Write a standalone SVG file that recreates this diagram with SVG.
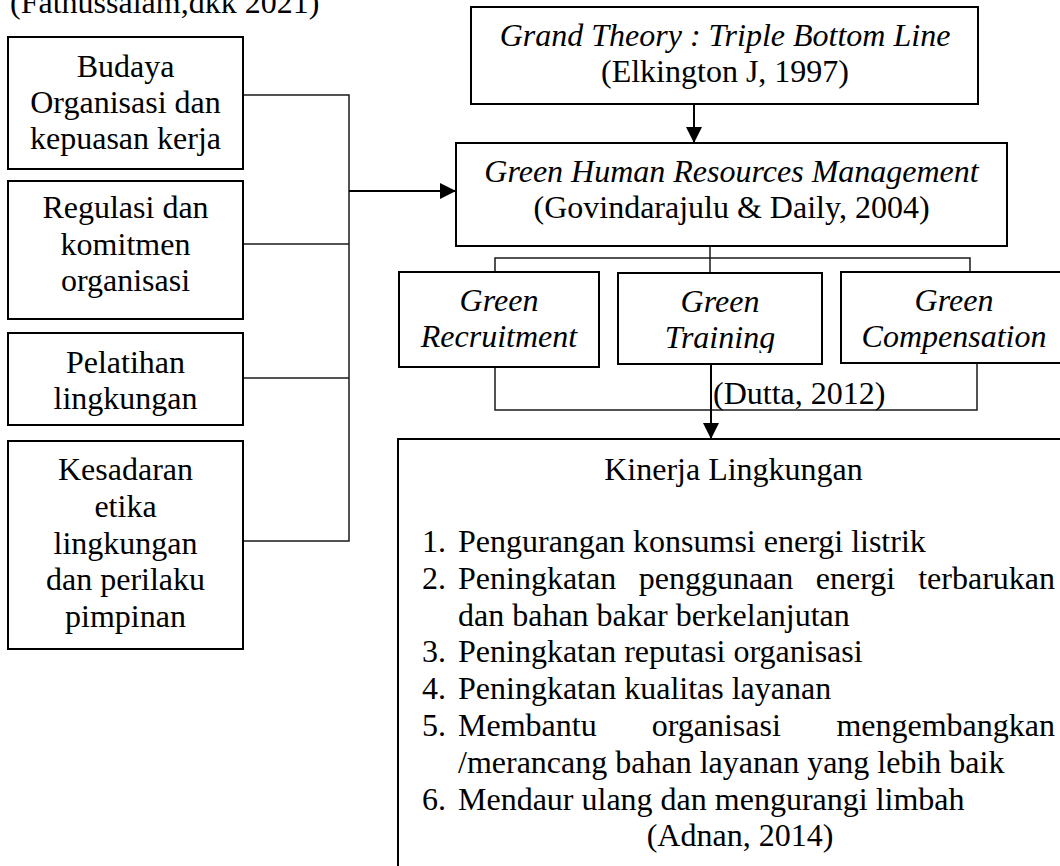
<svg xmlns="http://www.w3.org/2000/svg" width="1060" height="866" viewBox="0 0 1060 866">
<style>
  .box { fill: #ffffff; stroke: #000000; stroke-width: 2; }
  .t { font-family: "Liberation Serif", "Times New Roman", serif; font-size: 32px; fill: #000000; }
  .c { text-anchor: middle; }
  .i { font-style: italic; }
  .e { text-anchor: end; }
  .conn { fill: none; stroke: #1a1a1a; stroke-width: 1.5; }
  .arr { fill: none; stroke: #000000; stroke-width: 2; marker-end: url(#ah); }
</style>
<defs>
  <marker id="ah" markerUnits="userSpaceOnUse" markerWidth="16" markerHeight="16" viewBox="0 0 15 15" refX="15" refY="7.5" orient="auto">
    <path d="M0,0 L15,7.5 L0,15 z" fill="#000000"/>
  </marker>
  <clipPath id="clipTraining">
    <rect x="618" y="273" width="204" height="80"/>
  </clipPath>
</defs>
<rect x="0" y="0" width="1060" height="866" fill="#ffffff"/>

<text class="t" x="10" y="13">(Fathussalam,dkk 2021)</text>

<g id="connectors">
  <polyline class="conn" points="243,95 349,95 349,541 243,541"/>
  <line class="conn" x1="243" y1="244" x2="349" y2="244"/>
  <line class="conn" x1="243" y1="378" x2="349" y2="378"/>
  <line class="arr" x1="349" y1="191" x2="456" y2="191"/>
  <line class="arr" x1="694" y1="104" x2="694" y2="143"/>
  <line class="conn" x1="710" y1="246" x2="710" y2="273"/>
  <polyline class="conn" points="495,272 495,258 970,258 970,272"/>
  <polyline class="conn" points="495,367 495,410 977,410 977,363"/>
  <line class="arr" x1="711" y1="364" x2="711" y2="439"/>
</g>

<g id="node-budaya">
  <rect class="box" x="8" y="37" width="235" height="132"/>
  <text class="t c" x="125.5" y="77">Budaya</text>
  <text class="t c" x="125.5" y="113">Organisasi dan</text>
  <text class="t c" x="125.5" y="149">kepuasan kerja</text>
</g>

<g id="node-regulasi">
  <rect class="box" x="8" y="181" width="235" height="138"/>
  <text class="t c" x="125.5" y="218">Regulasi dan</text>
  <text class="t c" x="125.5" y="255">komitmen</text>
  <text class="t c" x="125.5" y="291">organisasi</text>
</g>

<g id="node-pelatihan">
  <rect class="box" x="8" y="333" width="235" height="92"/>
  <text class="t c" x="125.5" y="373">Pelatihan</text>
  <text class="t c" x="125.5" y="409">lingkungan</text>
</g>

<g id="node-kesadaran">
  <rect class="box" x="8" y="441" width="235" height="208"/>
  <text class="t c" x="125.5" y="480">Kesadaran</text>
  <text class="t c" x="125.5" y="517">etika</text>
  <text class="t c" x="125.5" y="554">lingkungan</text>
  <text class="t c" x="125.5" y="590">dan perilaku</text>
  <text class="t c" x="125.5" y="627">pimpinan</text>
</g>

<g id="node-grand-theory">
  <rect class="box" x="471" y="7" width="507" height="97"/>
  <text class="t c i" x="725" y="46">Grand Theory : Triple Bottom Line</text>
  <text class="t c" x="725" y="82">(Elkington J, 1997)</text>
</g>

<g id="node-ghrm">
  <rect class="box" x="456" y="143" width="551" height="103"/>
  <text class="t c i" x="731.5" y="182">Green Human Resources Management</text>
  <text class="t c" x="731.5" y="218">(Govindarajulu &amp; Daily, 2004)</text>
</g>

<g id="node-recruitment">
  <rect class="box" x="399" y="272" width="200" height="95"/>
  <text class="t c i" x="499" y="311">Green</text>
  <text class="t c i" x="499" y="347">Recruitment</text>
</g>

<g id="node-training">
  <rect class="box" x="618" y="273" width="204" height="91"/>
  <g clip-path="url(#clipTraining)">
    <text class="t c i" x="720" y="312">Green</text>
    <text class="t c i" x="720" y="348">Training</text>
  </g>
</g>

<g id="node-compensation">
  <rect class="box" x="841" y="272" width="240" height="91"/>
  <text class="t c i" x="954" y="311">Green</text>
  <text class="t c i" x="954" y="347">Compensation</text>
</g>

<text id="label-dutta" class="t" x="713" y="404">(Dutta, 2012)</text>

<g id="node-kinerja">
  <rect class="box" x="398" y="439" width="700" height="460"/>
  <text class="t c" x="733.5" y="480">Kinerja Lingkungan</text>
  <text class="t" x="422" y="552">1.</text>
  <text class="t" x="458" y="552">Pengurangan konsumsi energi listrik</text>
  <text class="t" x="422" y="589">2.</text>
  <text class="t" x="458" y="589">Peningkatan</text>
  <text class="t" x="638.7" y="589">penggunaan</text>
  <text class="t" x="815.8" y="589">energi</text>
  <text class="t e" x="1055" y="589">terbarukan</text>
  <text class="t" x="458" y="625.6">dan bahan bakar berkelanjutan</text>
  <text class="t" x="422" y="662.4">3.</text>
  <text class="t" x="458" y="662.4">Peningkatan reputasi organisasi</text>
  <text class="t" x="422" y="699.2">4.</text>
  <text class="t" x="458" y="699.2">Peningkatan kualitas layanan</text>
  <text class="t" x="422" y="736">5.</text>
  <text class="t" x="458" y="736">Membantu</text>
  <text class="t" x="651.7" y="736">organisasi</text>
  <text class="t e" x="1055" y="736">mengembangkan</text>
  <text class="t" x="458" y="772.8">/merancang bahan layanan yang lebih baik</text>
  <text class="t" x="422" y="809.6">6.</text>
  <text class="t" x="458" y="809.6">Mendaur ulang dan mengurangi limbah</text>
  <text class="t c" x="740" y="846.4">(Adnan, 2014)</text>
</g>
</svg>
